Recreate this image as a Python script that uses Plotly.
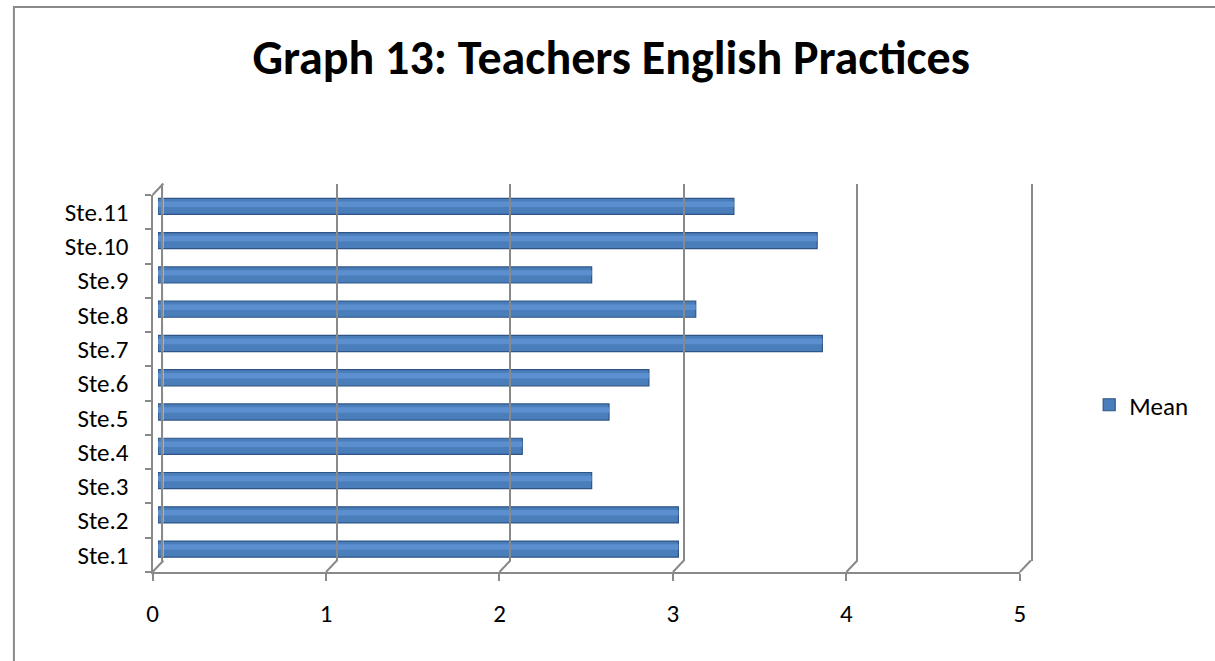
import plotly.graph_objects as go

categories = ["Ste.1", "Ste.2", "Ste.3", "Ste.4", "Ste.5", "Ste.6",
              "Ste.7", "Ste.8", "Ste.9", "Ste.10", "Ste.11"]
mean_values = [3.0, 3.0, 2.5, 2.1, 2.6, 2.83, 3.83, 3.1, 2.5, 3.8, 3.32]
x_ticks = [0, 1, 2, 3, 4, 5]
series_name = "Mean"
title_text = "Graph 13: Teachers English Practices"

W, H = 1215, 661
FONT = "Calibri, Carlito, Lato, sans-serif"
GREY = "#898989"

# pixel frames (front / middle / back walls of the 3D look)
FX0, FX1, FYB, FYT = 148, 1024, 572, 195
DX, DY = 11, 11.5


def xdom(x0, x1):
    return [x0 / W, x1 / W]


def ydom(yb, yt):
    return [(H - yb) / H, (H - yt) / H]


def px_x(v, x0):
    return (x0 + v * (FX1 - FX0) / 5.0) / W


def px_y(y):
    return (H - y) / H


fig = go.Figure()

# bars (middle depth)
fig.add_trace(go.Bar(
    y=categories, x=mean_values, orientation="h", name=series_name,
    width=0.47,
    marker=dict(color="#4A7EBB", line=dict(color="#2E5586", width=1.2)),
    xaxis="x2", yaxis="y2", showlegend=True,
))
fig.add_trace(go.Bar(
    y=categories, x=mean_values, orientation="h", name=series_name,
    width=0.16, offset=-0.02,
    marker=dict(color="#5B8FD0", line=dict(width=0)),
    xaxis="x2", yaxis="y2", showlegend=False, hoverinfo="skip",
))

# invisible trace to anchor front axes
fig.add_trace(go.Bar(y=categories, x=[0] * len(categories), orientation="h",
                     xaxis="x", yaxis="y", showlegend=False,
                     marker=dict(color="rgba(0,0,0,0)"), hoverinfo="skip"))
# invisible trace for back axes
fig.add_trace(go.Bar(y=categories, x=[0] * len(categories), orientation="h",
                     xaxis="x3", yaxis="y3", showlegend=False,
                     marker=dict(color="rgba(0,0,0,0)"), hoverinfo="skip"))

tickfont = dict(family=FONT, size=25, color="#000000")

layout = dict(
    width=W, height=H,
    margin=dict(l=0, r=0, t=0, b=0),
    paper_bgcolor="white", plot_bgcolor="rgba(0,0,0,0)",
    barmode="overlay",
    title=dict(text="<b>" + title_text + "</b>", x=0.503, xanchor="center",
               y=1 - 57 / H, yanchor="middle",
               font=dict(family=FONT, size=48, color="#000000")),
    showlegend=True,
    legend=dict(x=1094 / W, xanchor="left", y=px_y(405), yanchor="middle",
                font=dict(family=FONT, size=25, color="#000000"),
                bgcolor="rgba(0,0,0,0)"),
    # front axes
    xaxis=dict(domain=xdom(FX0, FX1), range=[0, 5], tickvals=x_ticks,
               showgrid=False, zeroline=False, showline=True,
               linecolor=GREY, linewidth=2, ticks="outside", ticklen=7,
               tickwidth=2, tickcolor=GREY, tickfont=tickfont,
               ticklabelstandoff=11, anchor="y", fixedrange=True),
    yaxis=dict(domain=ydom(FYB, FYT), type="category",
               categoryorder="array", categoryarray=categories,
               range=[-0.5, len(categories) - 0.5],
               showgrid=False, zeroline=False, showline=True,
               linecolor=GREY, linewidth=2, ticks="outside", ticklen=6,
               tickwidth=2, tickcolor=GREY, tickson="boundaries",
               tickfont=tickfont, ticklabelstandoff=17, anchor="x",
               fixedrange=True),
    # middle axes (bars)
    xaxis2=dict(domain=xdom(FX0 + DX / 2, FX1 + DX / 2), range=[0, 5],
                visible=False, anchor="y2", fixedrange=True),
    yaxis2=dict(domain=ydom(FYB - DY / 2, FYT - DY / 2), type="category",
                categoryorder="array", categoryarray=categories,
                range=[-0.5, len(categories) - 0.5],
                visible=False, anchor="x2", fixedrange=True),
    # back axes (wall gridlines)
    xaxis3=dict(domain=xdom(FX0 + DX, FX1 + DX), range=[0, 5],
                tickvals=x_ticks, showgrid=True, gridcolor=GREY, gridwidth=2,
                showticklabels=False, zeroline=False, showline=False,
                ticks="", anchor="y3", fixedrange=True),
    yaxis3=dict(domain=ydom(FYB - DY, FYT - DY), type="category",
                categoryorder="array", categoryarray=categories,
                range=[-0.5, len(categories) - 0.5],
                showgrid=False, zeroline=False, showline=True, mirror=True,
                linecolor=GREY, linewidth=2, showticklabels=False, ticks="",
                anchor="x3", fixedrange=True),
)

shapes = []
# floor connectors from front ticks to back gridlines
for v in x_ticks:
    shapes.append(dict(type="line", xref="paper", yref="paper",
                       x0=px_x(v, FX0), y0=px_y(FYB),
                       x1=px_x(v, FX0 + DX), y1=px_y(FYB - DY),
                       line=dict(color=GREY, width=2), layer="below"))
# top-left wall connector
shapes.append(dict(type="line", xref="paper", yref="paper",
                   x0=px_x(0, FX0), y0=px_y(FYT),
                   x1=px_x(0, FX0 + DX), y1=px_y(FYT - DY),
                   line=dict(color=GREY, width=2), layer="below"))
# chart border (extends beyond the visible area)
shapes.append(dict(type="rect", xref="paper", yref="paper",
                   x0=8 / W, y0=px_y(H + 20), x1=(W + 20) / W, y1=px_y(7),
                   line=dict(color=GREY, width=2), fillcolor="rgba(0,0,0,0)"))
layout["shapes"] = shapes

fig.update_layout(**layout)
fig.write_html(
    "out.html",
    config={"displayModeBar": False},
    post_script="document.body.style.margin='0';"
                "document.documentElement.style.overflow='hidden';",
)
